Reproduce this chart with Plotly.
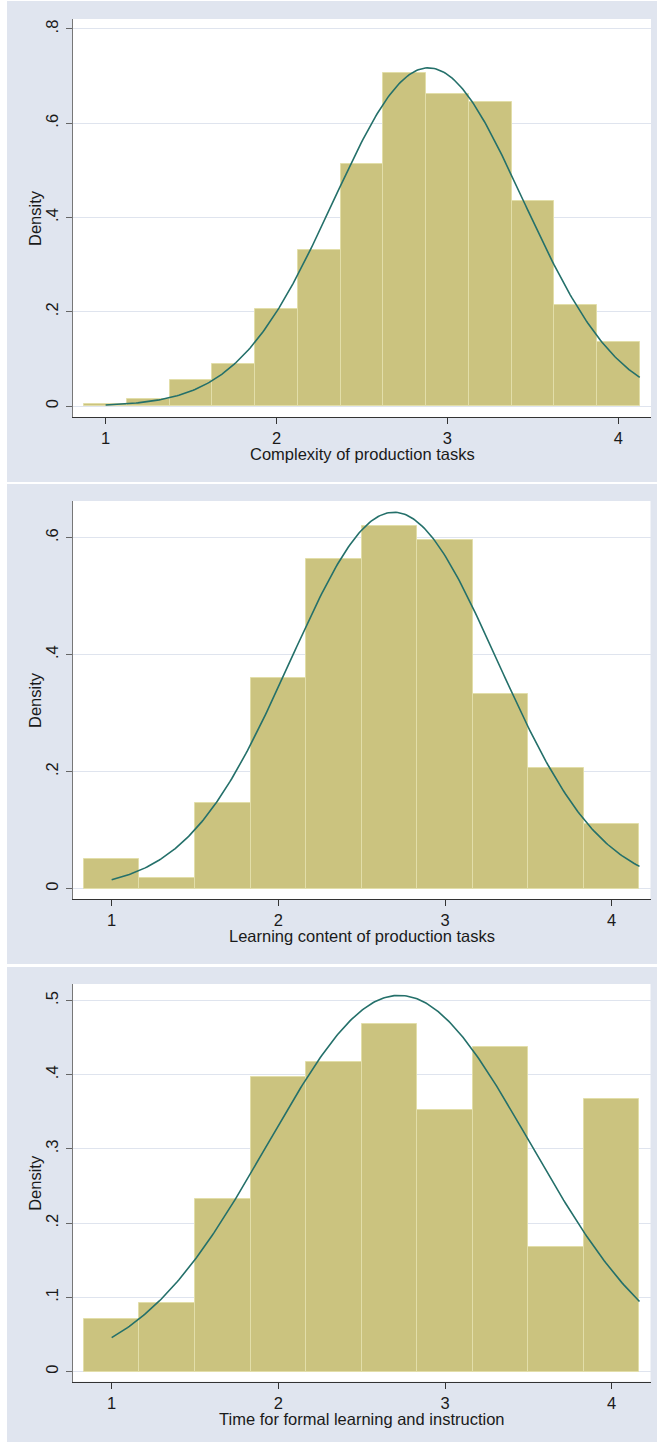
import numpy as np
import plotly.graph_objects as go

W, H = 657, 1442

# ---------------- data ----------------
# Panel 1: Complexity of production tasks (bin width 0.25)
p1_centers = [1.0, 1.25, 1.5, 1.75, 2.0, 2.25, 2.5, 2.75, 3.0, 3.25, 3.5, 3.75, 4.0]
p1_density = [0.004, 0.014, 0.055, 0.090, 0.206, 0.332, 0.514, 0.707, 0.662, 0.645, 0.435, 0.215, 0.135]
p1_binwidth = 0.25
p1_mean, p1_sd = 2.889, 0.556
p1_curve_range = [1.0, 4.125]
p1_title = "Complexity of production tasks"
p1_yticks = [0, 0.2, 0.4, 0.6, 0.8]
p1_yticklabels = ["0", ".2", ".4", ".6", ".8"]

# Panel 2: Learning content of production tasks (bin width 1/3)
p2_centers = [1.0, 4/3, 5/3, 2.0, 7/3, 8/3, 3.0, 10/3, 11/3, 4.0]
p2_density = [0.050, 0.019, 0.146, 0.361, 0.564, 0.620, 0.596, 0.332, 0.206, 0.110]
p2_binwidth = 1/3
p2_mean, p2_sd = 2.693, 0.620
p2_curve_range = [1.0, 4.167]
p2_title = "Learning content of production tasks"
p2_yticks = [0, 0.2, 0.4, 0.6]
p2_yticklabels = ["0", ".2", ".4", ".6"]

# Panel 3: Time for formal learning and instruction (bin width 1/3)
p3_centers = [1.0, 4/3, 5/3, 2.0, 7/3, 8/3, 3.0, 10/3, 11/3, 4.0]
p3_density = [0.071, 0.092, 0.232, 0.397, 0.417, 0.468, 0.353, 0.438, 0.168, 0.367]
p3_binwidth = 1/3
p3_mean, p3_sd = 2.725, 0.787
p3_curve_range = [1.0, 4.167]
p3_title = "Time for formal learning and instruction"
p3_yticks = [0, 0.1, 0.2, 0.3, 0.4, 0.5]
p3_yticklabels = ["0", ".1", ".2", ".3", ".4", ".5"]

xticks = [1, 2, 3, 4]
xticklabels = ["1", "2", "3", "4"]
ytitle = "Density"

# ---------------- styling / layout ----------------
PANEL_BG = "#e0e5ef"
BAR = "#cbc37f"
BAR_EDGE = "#e2dea9"
LINE = "#24706a"
GRID = "#dfe4ee"
FONT = "Liberation Sans, Arial, sans-serif"
FS = 16.5

panels = [
    dict(c=p1_centers, d=p1_density, bw=p1_binwidth, mu=p1_mean, sd=p1_sd, cr=p1_curve_range,
         title=p1_title, yt=p1_yticks, ytl=p1_yticklabels,
         xr=[0.809, 4.191], yr=[-0.0233, 0.8212], px=(73, 651), py=(19, 417)),
    dict(c=p2_centers, d=p2_density, bw=p2_binwidth, mu=p2_mean, sd=p2_sd, cr=p2_curve_range,
         title=p2_title, yt=p2_yticks, ytl=p2_yticklabels,
         xr=[0.768, 4.233], yr=[-0.0176, 0.6627], px=(73, 650.5), py=(501, 899)),
    dict(c=p3_centers, d=p3_density, bw=p3_binwidth, mu=p3_mean, sd=p3_sd, cr=p3_curve_range,
         title=p3_title, yt=p3_yticks, ytl=p3_yticklabels,
         xr=[0.768, 4.233], yr=[-0.0135, 0.5222], px=(73, 650.5), py=(984, 1381.7)),
]

fig = go.Figure()
layout = dict(
    width=W, height=H, margin=dict(l=0, r=0, t=0, b=0),
    paper_bgcolor=PANEL_BG, plot_bgcolor="white",
    showlegend=False, bargap=0,
    font=dict(family=FONT, size=FS, color="#1a1a1a"),
)
annotations = []
for i, p in enumerate(panels):
    n = "" if i == 0 else str(i + 1)
    xa, ya = "x" + n, "y" + n
    fig.add_trace(go.Bar(
        x=p["c"], y=p["d"], width=p["bw"],
        marker=dict(color=BAR, line=dict(color=BAR_EDGE, width=1)),
        xaxis=xa, yaxis=ya, hoverinfo="skip"))
    xs = np.linspace(p["cr"][0], p["cr"][1], 300)
    ys = np.exp(-0.5 * ((xs - p["mu"]) / p["sd"]) ** 2) / (p["sd"] * np.sqrt(2 * np.pi))
    fig.add_trace(go.Scatter(
        x=xs, y=ys, mode="lines", line=dict(color=LINE, width=1.6),
        xaxis=xa, yaxis=ya, hoverinfo="skip"))

    x0, x1 = p["px"]
    y0, y1 = p["py"]
    layout["xaxis" + n] = dict(
        domain=[x0 / W, x1 / W], range=p["xr"], anchor=ya,
        tickvals=xticks, ticktext=xticklabels, ticks="outside", ticklen=6,
        tickcolor="#333333", showline=True, linecolor="#333333", linewidth=1,
        showgrid=False, zeroline=False, tickfont=dict(size=FS, color="#1a1a1a"),
        ticklabelstandoff=0,
    )
    layout["yaxis" + n] = dict(
        domain=[1 - y1 / H, 1 - y0 / H], range=p["yr"], anchor=xa,
        tickvals=p["yt"], ticktext=p["ytl"], tickangle=-90,
        ticks="outside", ticklen=6, tickcolor="#666666",
        showline=True, linecolor="#777777", linewidth=1,
        showgrid=True, gridcolor=GRID, gridwidth=1, zeroline=False,
        tickfont=dict(size=FS, color="#1a1a1a"), ticklabelstandoff=1,
    )
    annotations.append(dict(
        text=p["title"], xref="paper", yref="paper",
        x=((x0 + x1) / 2) / W, y=1 - (y1 + 37) / H,
        xanchor="center", yanchor="middle", showarrow=False,
        font=dict(size=FS, color="#1a1a1a")))
    annotations.append(dict(
        text=ytitle, xref="paper", yref="paper",
        x=35 / W, y=1 - ((y0 + y1) / 2) / H, textangle=-90,
        xanchor="center", yanchor="middle", showarrow=False,
        font=dict(size=FS, color="#1a1a1a")))

# white frame strips separating the three graph regions
strips = [(0, 0, 7, H), (0, 0, W, 1), (0, 482, W, 484), (0, 964, W, 967)]
shapes = [dict(type="rect", xref="paper", yref="paper",
               x0=a / W, x1=c / W, y0=1 - d / H, y1=1 - b / H,
               fillcolor="white", line=dict(width=0), layer="above")
          for (a, b, c, d) in strips]

layout["annotations"] = annotations
layout["shapes"] = shapes
fig.update_layout(**layout)
fig.write_html("out.html")
